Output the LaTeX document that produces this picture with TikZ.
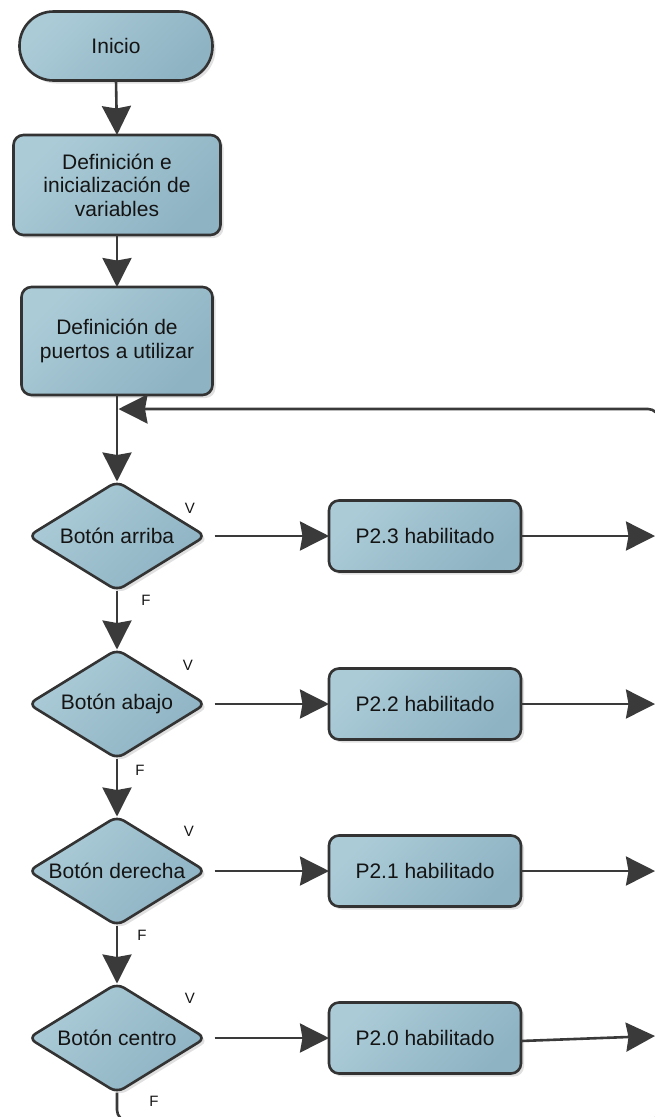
\documentclass[tikz,border=0pt]{standalone}
\usepackage{fontspec}
\setmainfont{Liberation Sans}
\usetikzlibrary{arrows.meta,shapes.geometric,shadows}
\definecolor{fillA}{HTML}{ABCBD7}
\definecolor{fillB}{HTML}{8EB3C3}
\definecolor{edgeC}{HTML}{333333}
\definecolor{lineC}{HTML}{3A3A3A}
\definecolor{txtC}{HTML}{141414}
\begin{document}
\begin{tikzpicture}[x=1pt,y=-1pt,
  base/.style={draw=edgeC, line width=2.6pt, top color=fillA, bottom color=fillB, shading angle=45,
    drop shadow={shadow xshift=3pt, shadow yshift=-3pt, fill=black, opacity=0.12},
    text=txtC, font=\fontsize{21}{23.5}\selectfont, align=center, inner sep=0pt, outer sep=0pt},
  termbox/.style={base, rectangle, rounded corners=34pt, minimum width=193pt, minimum height=69pt},
  procbox/.style={base, rectangle, rounded corners=10pt},
  decbox/.style={base, diamond, aspect=1.6, rounded corners=8pt, minimum width=177pt, minimum height=109pt},
  conn/.style={draw=lineC, line width=2.6pt, -{Stealth[length=29pt,width=29pt,inset=2.5pt]}},
  lbl/.style={font=\fontsize{15}{17}\selectfont, text=txtC, inner sep=0pt}
]
\useasboundingbox (0,0) rectangle (655,1117);
\clip (0,0) rectangle (655,1117);

% nodes
\node[termbox] (ini) at (116,46) {Inicio};
\node[procbox, minimum width=207pt, minimum height=100pt] (def1) at (117,185) {Definición e\\inicialización de\\variables};
\node[procbox, minimum width=191pt, minimum height=108pt] (def2) at (117,341) {Definición de\\puertos a utilizar};

\node[decbox] (d1) at (117,536) {Botón arriba};
\node[decbox] (d2) at (117,704) {Botón abajo};
\node[decbox] (d3) at (117,871) {Botón derecha};
\node[decbox] (d4) at (117,1038) {Botón centro};

\node[procbox, minimum width=192pt, minimum height=71pt] (p1) at (425,536) {P2.3 habilitado};
\node[procbox, minimum width=192pt, minimum height=71pt] (p2) at (425,704) {P2.2 habilitado};
\node[procbox, minimum width=192pt, minimum height=71pt] (p3) at (425,871) {P2.1 habilitado};
\node[procbox, minimum width=192pt, minimum height=71pt] (p4) at (425,1038) {P2.0 habilitado};

% labels
\node[lbl] (v1) at (190,508) {V};
\node[lbl] (v2) at (188,665) {V};
\node[lbl] (v3) at (189,831) {V};
\node[lbl] (v4) at (190,998) {V};
\node[lbl] (f1) at (146,600) {F};
\node[lbl] (f2) at (140,770) {F};
\node[lbl] (f3) at (142,935) {F};
\node[lbl] (f4) at (154,1101) {F};

% coordinates
\coordinate (e1) at (655,536);
\coordinate (e2) at (655,704);
\coordinate (e3) at (655,871);
\coordinate (e4) at (655,1036);
\coordinate (bl) at (117,1121);
\coordinate (br) at (659,1121);
\coordinate (tr) at (659,409);
\coordinate (jn) at (118.5,409);

% connectors
\draw[conn] (ini.south) -- (def1.north);
\draw[conn] (def1.south) -- (def2.north);
\draw[conn] (def2.south) -- (d1.north);
\draw[conn] (d1.south) -- (d2.north);
\draw[conn] (d2.south) -- (d3.north);
\draw[conn] (d3.south) -- (d4.north);

\draw[conn] ([xshift=9pt]d1.east) -- (p1.west);
\draw[conn] ([xshift=9pt]d2.east) -- (p2.west);
\draw[conn] ([xshift=9pt]d3.east) -- (p3.west);
\draw[conn] ([xshift=9pt]d4.east) -- (p4.west);

\draw[conn] (p1.east) -- (e1);
\draw[conn] (p2.east) -- (e2);
\draw[conn] (p3.east) -- (e3);
\draw[conn] ([yshift=-3pt]p4.east) -- (e4);

\draw[conn, rounded corners=11pt] (d4.south) -- (bl) -- (br) -- (tr) -- (jn);
\end{tikzpicture}
\end{document}
